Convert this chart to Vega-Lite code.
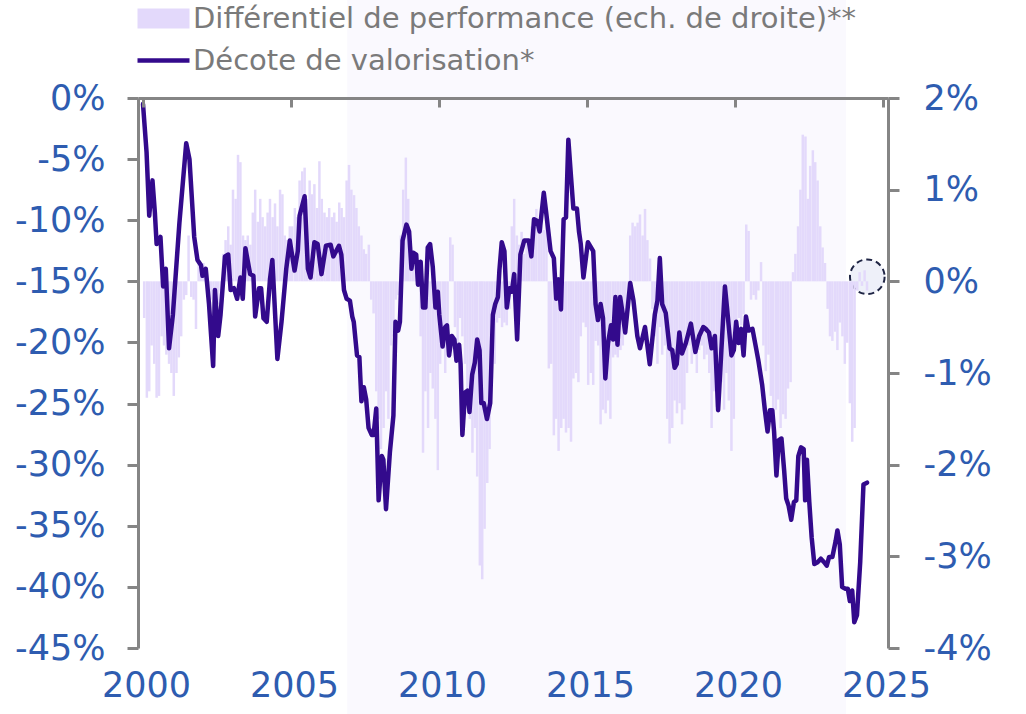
{
  "$schema": "https://vega.github.io/schema/vega-lite/v6.json",
  "width": 750,
  "height": 550,
  "autosize": {"type": "none"},
  "padding": {"left": 138, "top": 98, "right": 138, "bottom": 66},
  "background": "white",
  "config": {"view": {"stroke": null}, "font": "DejaVu Sans"},
  "datasets": {
    "zone": [{"debut": 2006.9, "fin": 2023.75, "haut": 8.1, "bas": -50.5}],
    "repere": [{"annee": 2024.47, "ecart": 0.05}],
    "perf": [
      {"annee": 2000.04, "ecart": -0.4}, {"annee": 2000.13, "ecart": -1.27}, {"annee": 2000.21, "ecart": -1.2}, {"annee": 2000.29, "ecart": -0.7}, {"annee": 2000.38, "ecart": -0.9}, {"annee": 2000.46, "ecart": -1.27}, {"annee": 2000.54, "ecart": -1.25}, {"annee": 2000.63, "ecart": -0.6}, {"annee": 2000.71, "ecart": -0.7}, {"annee": 2000.79, "ecart": -0.8}, {"annee": 2000.88, "ecart": -0.9}, {"annee": 2000.96, "ecart": -1.0},
      {"annee": 2001.04, "ecart": -1.25}, {"annee": 2001.13, "ecart": -1.0}, {"annee": 2001.21, "ecart": -0.83}, {"annee": 2001.29, "ecart": -0.6}, {"annee": 2001.38, "ecart": -0.2}, {"annee": 2001.46, "ecart": -0.15}, {"annee": 2001.54, "ecart": 0.5}, {"annee": 2001.63, "ecart": -0.17}, {"annee": 2001.71, "ecart": -0.2}, {"annee": 2001.79, "ecart": -0.52}, {"annee": 2001.88, "ecart": 0.2}, {"annee": 2001.96, "ecart": 0.15},
      {"annee": 2002.04, "ecart": 0.2}, {"annee": 2002.13, "ecart": 0.15}, {"annee": 2002.21, "ecart": -0.1}, {"annee": 2002.29, "ecart": -0.2}, {"annee": 2002.38, "ecart": -0.3}, {"annee": 2002.46, "ecart": -0.15}, {"annee": 2002.54, "ecart": -0.25}, {"annee": 2002.63, "ecart": -0.1}, {"annee": 2002.71, "ecart": 0.3}, {"annee": 2002.79, "ecart": 0.45}, {"annee": 2002.88, "ecart": 0.6}, {"annee": 2002.96, "ecart": 0.4},
      {"annee": 2003.04, "ecart": 1.0}, {"annee": 2003.13, "ecart": 0.9}, {"annee": 2003.21, "ecart": 1.38}, {"annee": 2003.29, "ecart": 1.3}, {"annee": 2003.38, "ecart": 0.5}, {"annee": 2003.46, "ecart": 0.45}, {"annee": 2003.54, "ecart": 0.5}, {"annee": 2003.63, "ecart": 0.4}, {"annee": 2003.71, "ecart": 0.75}, {"annee": 2003.79, "ecart": 1.0}, {"annee": 2003.88, "ecart": 0.65}, {"annee": 2003.96, "ecart": 0.9},
      {"annee": 2004.04, "ecart": 0.7}, {"annee": 2004.13, "ecart": 0.6}, {"annee": 2004.21, "ecart": 0.75}, {"annee": 2004.29, "ecart": 0.9}, {"annee": 2004.38, "ecart": 0.7}, {"annee": 2004.46, "ecart": 0.85}, {"annee": 2004.54, "ecart": 0.6}, {"annee": 2004.63, "ecart": 1.0}, {"annee": 2004.71, "ecart": 0.95}, {"annee": 2004.79, "ecart": 0.5}, {"annee": 2004.88, "ecart": 0.45}, {"annee": 2004.96, "ecart": 0.6},
      {"annee": 2005.04, "ecart": 0.6}, {"annee": 2005.13, "ecart": 0.8}, {"annee": 2005.21, "ecart": 0.7}, {"annee": 2005.29, "ecart": 1.1}, {"annee": 2005.38, "ecart": 1.2}, {"annee": 2005.46, "ecart": 1.24}, {"annee": 2005.54, "ecart": 0.9}, {"annee": 2005.63, "ecart": 1.1}, {"annee": 2005.71, "ecart": 0.95}, {"annee": 2005.79, "ecart": 1.06}, {"annee": 2005.88, "ecart": 0.8}, {"annee": 2005.96, "ecart": 1.31},
      {"annee": 2006.04, "ecart": 0.9}, {"annee": 2006.13, "ecart": 0.75}, {"annee": 2006.21, "ecart": 0.7}, {"annee": 2006.29, "ecart": 0.8}, {"annee": 2006.38, "ecart": 0.7}, {"annee": 2006.46, "ecart": 0.75}, {"annee": 2006.54, "ecart": 0.65}, {"annee": 2006.63, "ecart": 0.86}, {"annee": 2006.71, "ecart": 0.8}, {"annee": 2006.79, "ecart": 0.7}, {"annee": 2006.88, "ecart": 1.1}, {"annee": 2006.96, "ecart": 1.27},
      {"annee": 2007.04, "ecart": 1.0}, {"annee": 2007.13, "ecart": 0.94}, {"annee": 2007.21, "ecart": 0.8}, {"annee": 2007.29, "ecart": 0.6}, {"annee": 2007.38, "ecart": 0.5}, {"annee": 2007.46, "ecart": 0.35}, {"annee": 2007.54, "ecart": 0.3}, {"annee": 2007.63, "ecart": 0.4}, {"annee": 2007.71, "ecart": -0.2}, {"annee": 2007.79, "ecart": -0.35}, {"annee": 2007.88, "ecart": -1.2}, {"annee": 2007.96, "ecart": -1.5},
      {"annee": 2008.04, "ecart": -1.83}, {"annee": 2008.13, "ecart": -1.6}, {"annee": 2008.21, "ecart": -1.2}, {"annee": 2008.29, "ecart": -1.5}, {"annee": 2008.38, "ecart": -0.7}, {"annee": 2008.46, "ecart": -0.6}, {"annee": 2008.54, "ecart": -0.2}, {"annee": 2008.63, "ecart": -0.15}, {"annee": 2008.71, "ecart": 0.5}, {"annee": 2008.79, "ecart": 1.0}, {"annee": 2008.88, "ecart": 1.35}, {"annee": 2008.96, "ecart": 0.9},
      {"annee": 2009.04, "ecart": 0.35}, {"annee": 2009.13, "ecart": 0.2}, {"annee": 2009.21, "ecart": 0.1}, {"annee": 2009.29, "ecart": 0.15}, {"annee": 2009.38, "ecart": -0.6}, {"annee": 2009.46, "ecart": -1.87}, {"annee": 2009.54, "ecart": -1.2}, {"annee": 2009.63, "ecart": -1.6}, {"annee": 2009.71, "ecart": -1.0}, {"annee": 2009.79, "ecart": -1.17}, {"annee": 2009.88, "ecart": -1.5}, {"annee": 2009.96, "ecart": -2.06},
      {"annee": 2010.04, "ecart": -0.9}, {"annee": 2010.13, "ecart": -0.7}, {"annee": 2010.21, "ecart": -1.0}, {"annee": 2010.29, "ecart": -0.8}, {"annee": 2010.38, "ecart": 0.48}, {"annee": 2010.46, "ecart": 0.4}, {"annee": 2010.54, "ecart": -0.5}, {"annee": 2010.63, "ecart": -0.7}, {"annee": 2010.71, "ecart": -0.4}, {"annee": 2010.79, "ecart": -0.6}, {"annee": 2010.88, "ecart": -0.9}, {"annee": 2010.96, "ecart": -1.2},
      {"annee": 2011.04, "ecart": -1.5}, {"annee": 2011.13, "ecart": -1.87}, {"annee": 2011.21, "ecart": -1.6}, {"annee": 2011.29, "ecart": -2.13}, {"annee": 2011.38, "ecart": -3.1}, {"annee": 2011.46, "ecart": -3.25}, {"annee": 2011.54, "ecart": -2.7}, {"annee": 2011.63, "ecart": -2.2}, {"annee": 2011.71, "ecart": -1.83}, {"annee": 2011.79, "ecart": -1.06}, {"annee": 2011.88, "ecart": -0.9}, {"annee": 2011.96, "ecart": -0.45},
      {"annee": 2012.04, "ecart": -0.4}, {"annee": 2012.13, "ecart": -0.5}, {"annee": 2012.21, "ecart": -0.45}, {"annee": 2012.29, "ecart": -0.48}, {"annee": 2012.38, "ecart": -0.3}, {"annee": 2012.46, "ecart": 0.6}, {"annee": 2012.54, "ecart": 0.9}, {"annee": 2012.63, "ecart": 0.5}, {"annee": 2012.71, "ecart": 0.4}, {"annee": 2012.79, "ecart": 0.54}, {"annee": 2012.88, "ecart": 0.3}, {"annee": 2012.96, "ecart": 0.45},
      {"annee": 2013.04, "ecart": 0.4}, {"annee": 2013.13, "ecart": 0.6}, {"annee": 2013.21, "ecart": 0.7}, {"annee": 2013.29, "ecart": 0.79}, {"annee": 2013.38, "ecart": 0.65}, {"annee": 2013.46, "ecart": 0.6}, {"annee": 2013.54, "ecart": 0.56}, {"annee": 2013.63, "ecart": 0.7}, {"annee": 2013.71, "ecart": -0.95}, {"annee": 2013.79, "ecart": -0.9}, {"annee": 2013.88, "ecart": -1.68}, {"annee": 2013.96, "ecart": -1.5},
      {"annee": 2014.04, "ecart": -1.85}, {"annee": 2014.13, "ecart": -1.6}, {"annee": 2014.21, "ecart": -1.5}, {"annee": 2014.29, "ecart": -1.65}, {"annee": 2014.38, "ecart": -1.6}, {"annee": 2014.46, "ecart": -1.75}, {"annee": 2014.54, "ecart": -1.06}, {"annee": 2014.63, "ecart": -1.0}, {"annee": 2014.71, "ecart": -1.1}, {"annee": 2014.79, "ecart": -0.6}, {"annee": 2014.88, "ecart": -0.45}, {"annee": 2014.96, "ecart": -0.5},
      {"annee": 2015.04, "ecart": -1.13}, {"annee": 2015.13, "ecart": -1.0}, {"annee": 2015.21, "ecart": -1.13}, {"annee": 2015.29, "ecart": -0.65}, {"annee": 2015.38, "ecart": -0.7}, {"annee": 2015.46, "ecart": -1.56}, {"annee": 2015.54, "ecart": -1.4}, {"annee": 2015.63, "ecart": -1.44}, {"annee": 2015.71, "ecart": -1.3}, {"annee": 2015.79, "ecart": -1.5}, {"annee": 2015.88, "ecart": -0.83}, {"annee": 2015.96, "ecart": -0.8},
      {"annee": 2016.04, "ecart": -0.83}, {"annee": 2016.13, "ecart": -0.75}, {"annee": 2016.21, "ecart": -0.7}, {"annee": 2016.29, "ecart": -0.36}, {"annee": 2016.38, "ecart": -0.3}, {"annee": 2016.46, "ecart": 0.5}, {"annee": 2016.54, "ecart": 0.64}, {"annee": 2016.63, "ecart": 0.6}, {"annee": 2016.71, "ecart": 0.64}, {"annee": 2016.79, "ecart": 0.73}, {"annee": 2016.88, "ecart": 0.5}, {"annee": 2016.96, "ecart": 0.79},
      {"annee": 2017.04, "ecart": 0.45}, {"annee": 2017.13, "ecart": 0.25}, {"annee": 2017.21, "ecart": -0.3}, {"annee": 2017.29, "ecart": -0.6}, {"annee": 2017.38, "ecart": -0.9}, {"annee": 2017.46, "ecart": -0.5}, {"annee": 2017.54, "ecart": -0.8}, {"annee": 2017.63, "ecart": -0.7}, {"annee": 2017.71, "ecart": -1.5}, {"annee": 2017.79, "ecart": -1.77}, {"annee": 2017.88, "ecart": -1.6}, {"annee": 2017.96, "ecart": -1.3},
      {"annee": 2018.04, "ecart": -1.44}, {"annee": 2018.13, "ecart": -1.33}, {"annee": 2018.21, "ecart": -1.56}, {"annee": 2018.29, "ecart": -1.4}, {"annee": 2018.38, "ecart": -1.0}, {"annee": 2018.46, "ecart": -0.7}, {"annee": 2018.54, "ecart": -0.9}, {"annee": 2018.63, "ecart": -0.8}, {"annee": 2018.71, "ecart": -1.0}, {"annee": 2018.79, "ecart": -0.75}, {"annee": 2018.88, "ecart": -0.7}, {"annee": 2018.96, "ecart": -0.85},
      {"annee": 2019.04, "ecart": -0.8}, {"annee": 2019.13, "ecart": -1.0}, {"annee": 2019.21, "ecart": -1.6}, {"annee": 2019.29, "ecart": -1.2}, {"annee": 2019.38, "ecart": -1.37}, {"annee": 2019.46, "ecart": -1.3}, {"annee": 2019.54, "ecart": -1.1}, {"annee": 2019.63, "ecart": -1.4}, {"annee": 2019.71, "ecart": -1.0}, {"annee": 2019.79, "ecart": -1.3}, {"annee": 2019.88, "ecart": -1.85}, {"annee": 2019.96, "ecart": -1.5},
      {"annee": 2020.04, "ecart": -0.45}, {"annee": 2020.13, "ecart": -0.4}, {"annee": 2020.21, "ecart": -0.48}, {"annee": 2020.29, "ecart": -0.36}, {"annee": 2020.38, "ecart": 0.62}, {"annee": 2020.46, "ecart": 0.55}, {"annee": 2020.54, "ecart": -0.2}, {"annee": 2020.63, "ecart": -0.15}, {"annee": 2020.71, "ecart": -0.2}, {"annee": 2020.79, "ecart": -0.1}, {"annee": 2020.88, "ecart": 0.21}, {"annee": 2020.96, "ecart": -0.7},
      {"annee": 2021.04, "ecart": -0.98}, {"annee": 2021.13, "ecart": -0.8}, {"annee": 2021.21, "ecart": -1.25}, {"annee": 2021.29, "ecart": -1.56}, {"annee": 2021.38, "ecart": -1.4}, {"annee": 2021.46, "ecart": -1.29}, {"annee": 2021.54, "ecart": -1.6}, {"annee": 2021.63, "ecart": -1.45}, {"annee": 2021.71, "ecart": -1.5}, {"annee": 2021.79, "ecart": -1.17}, {"annee": 2021.88, "ecart": -1.1}, {"annee": 2021.96, "ecart": 0.1},
      {"annee": 2022.04, "ecart": 0.3}, {"annee": 2022.13, "ecart": 0.6}, {"annee": 2022.21, "ecart": 1.0}, {"annee": 2022.29, "ecart": 1.6}, {"annee": 2022.38, "ecart": 1.58}, {"annee": 2022.46, "ecart": 0.9}, {"annee": 2022.54, "ecart": 1.26}, {"annee": 2022.63, "ecart": 1.43}, {"annee": 2022.71, "ecart": 1.3}, {"annee": 2022.79, "ecart": 1.1}, {"annee": 2022.88, "ecart": 0.6}, {"annee": 2022.96, "ecart": 0.37},
      {"annee": 2023.04, "ecart": 0.2}, {"annee": 2023.13, "ecart": -0.3}, {"annee": 2023.21, "ecart": -0.6}, {"annee": 2023.29, "ecart": -0.65}, {"annee": 2023.38, "ecart": -0.55}, {"annee": 2023.46, "ecart": -0.75}, {"annee": 2023.54, "ecart": -0.45}, {"annee": 2023.63, "ecart": -0.6}, {"annee": 2023.71, "ecart": -0.9}, {"annee": 2023.79, "ecart": -0.67}, {"annee": 2023.88, "ecart": -1.33}, {"annee": 2023.96, "ecart": -1.75},
      {"annee": 2024.04, "ecart": -1.6}, {"annee": 2024.13, "ecart": -0.1}, {"annee": 2024.21, "ecart": 0.1}, {"annee": 2024.29, "ecart": -0.05}, {"annee": 2024.38, "ecart": 0.12}, {"annee": 2024.46, "ecart": -0.1}
    ],
    "decote": [
      {"annee": 2000.0, "decote": -0.5}, {"annee": 2000.12, "decote": -4.43}, {"annee": 2000.21, "decote": -9.63}, {"annee": 2000.32, "decote": -6.74}, {"annee": 2000.4, "decote": -9.34}, {"annee": 2000.46, "decote": -11.95}, {"annee": 2000.59, "decote": -11.37}, {"annee": 2000.68, "decote": -15.42}, {"annee": 2000.77, "decote": -13.97}, {"annee": 2000.88, "decote": -20.48},
      {"annee": 2001.01, "decote": -17.73}, {"annee": 2001.23, "decote": -10.21}, {"annee": 2001.46, "decote": -3.7}, {"annee": 2001.57, "decote": -5.0}, {"annee": 2001.73, "decote": -11.37}, {"annee": 2001.84, "decote": -13.25}, {"annee": 2001.96, "decote": -13.68},
      {"annee": 2002.01, "decote": -14.55}, {"annee": 2002.12, "decote": -13.97}, {"annee": 2002.23, "decote": -16.86}, {"annee": 2002.37, "decote": -21.93}, {"annee": 2002.43, "decote": -15.71}, {"annee": 2002.54, "decote": -19.47}, {"annee": 2002.62, "decote": -17.73}, {"annee": 2002.77, "decote": -12.96}, {"annee": 2002.88, "decote": -12.81}, {"annee": 2002.96, "decote": -15.71},
      {"annee": 2003.07, "decote": -15.56}, {"annee": 2003.18, "decote": -16.43}, {"annee": 2003.29, "decote": -14.69}, {"annee": 2003.37, "decote": -16.43}, {"annee": 2003.46, "decote": -12.29}, {"annee": 2003.62, "decote": -14.41}, {"annee": 2003.73, "decote": -14.55}, {"annee": 2003.79, "decote": -17.88}, {"annee": 2003.92, "decote": -15.56}, {"annee": 2003.99, "decote": -15.56},
      {"annee": 2004.07, "decote": -18.02}, {"annee": 2004.18, "decote": -18.31}, {"annee": 2004.29, "decote": -14.84}, {"annee": 2004.37, "decote": -13.25}, {"annee": 2004.54, "decote": -21.35}, {"annee": 2004.68, "decote": -18.31}, {"annee": 2004.84, "decote": -13.97}, {"annee": 2004.96, "decote": -11.66},
      {"annee": 2005.12, "decote": -14.12}, {"annee": 2005.23, "decote": -12.53}, {"annee": 2005.29, "decote": -9.63}, {"annee": 2005.46, "decote": -8.04}, {"annee": 2005.57, "decote": -13.97}, {"annee": 2005.66, "decote": -14.69}, {"annee": 2005.79, "decote": -11.8}, {"annee": 2005.9, "decote": -11.95},
      {"annee": 2006.03, "decote": -14.41}, {"annee": 2006.18, "decote": -12.09}, {"annee": 2006.34, "decote": -12.0}, {"annee": 2006.43, "decote": -12.96}, {"annee": 2006.62, "decote": -12.09}, {"annee": 2006.7, "decote": -12.81}, {"annee": 2006.79, "decote": -15.71}, {"annee": 2006.88, "decote": -16.43}, {"annee": 2006.99, "decote": -16.58},
      {"annee": 2007.07, "decote": -17.88}, {"annee": 2007.12, "decote": -18.31}, {"annee": 2007.23, "decote": -21.06}, {"annee": 2007.31, "decote": -21.2}, {"annee": 2007.38, "decote": -24.82}, {"annee": 2007.46, "decote": -23.66}, {"annee": 2007.54, "decote": -24.67}, {"annee": 2007.62, "decote": -26.99}, {"annee": 2007.73, "decote": -27.57}, {"annee": 2007.79, "decote": -27.57}, {"annee": 2007.88, "decote": -25.4}, {"annee": 2007.96, "decote": -32.92},
      {"annee": 2008.07, "decote": -29.3}, {"annee": 2008.12, "decote": -29.59}, {"annee": 2008.21, "decote": -33.64}, {"annee": 2008.34, "decote": -29.01}, {"annee": 2008.46, "decote": -25.98}, {"annee": 2008.53, "decote": -18.31}, {"annee": 2008.62, "decote": -19.03}, {"annee": 2008.68, "decote": -18.31}, {"annee": 2008.77, "decote": -11.66}, {"annee": 2008.9, "decote": -10.36}, {"annee": 2008.99, "decote": -10.93},
      {"annee": 2009.07, "decote": -13.97}, {"annee": 2009.14, "decote": -12.67}, {"annee": 2009.23, "decote": -12.81}, {"annee": 2009.29, "decote": -15.27}, {"annee": 2009.38, "decote": -13.39}, {"annee": 2009.46, "decote": -17.15}, {"annee": 2009.54, "decote": -17.15}, {"annee": 2009.62, "decote": -12.24}, {"annee": 2009.7, "decote": -11.95}, {"annee": 2009.79, "decote": -13.83}, {"annee": 2009.88, "decote": -17.15}, {"annee": 2009.96, "decote": -15.85},
      {"annee": 2010.01, "decote": -17.73}, {"annee": 2010.12, "decote": -20.34}, {"annee": 2010.21, "decote": -18.74}, {"annee": 2010.27, "decote": -18.6}, {"annee": 2010.34, "decote": -21.06}, {"annee": 2010.43, "decote": -19.47}, {"annee": 2010.52, "decote": -19.76}, {"annee": 2010.59, "decote": -21.49}, {"annee": 2010.68, "decote": -20.19}, {"annee": 2010.73, "decote": -21.78}, {"annee": 2010.79, "decote": -27.57}, {"annee": 2010.88, "decote": -24.1}, {"annee": 2010.96, "decote": -23.95},
      {"annee": 2011.03, "decote": -25.69}, {"annee": 2011.12, "decote": -22.65}, {"annee": 2011.21, "decote": -21.64}, {"annee": 2011.29, "decote": -19.76}, {"annee": 2011.37, "decote": -20.63}, {"annee": 2011.43, "decote": -24.96}, {"annee": 2011.51, "decote": -24.96}, {"annee": 2011.62, "decote": -26.27}, {"annee": 2011.73, "decote": -24.96}, {"annee": 2011.82, "decote": -17.73}, {"annee": 2011.9, "decote": -16.86}, {"annee": 2011.99, "decote": -16.29},
      {"annee": 2012.04, "decote": -14.12}, {"annee": 2012.12, "decote": -11.8}, {"annee": 2012.21, "decote": -12.53}, {"annee": 2012.29, "decote": -17.15}, {"annee": 2012.38, "decote": -15.56}, {"annee": 2012.46, "decote": -15.85}, {"annee": 2012.54, "decote": -14.41}, {"annee": 2012.64, "decote": -19.76}, {"annee": 2012.75, "decote": -12.81}, {"annee": 2012.88, "decote": -11.66},
      {"annee": 2013.03, "decote": -11.66}, {"annee": 2013.12, "decote": -12.96}, {"annee": 2013.21, "decote": -9.92}, {"annee": 2013.32, "decote": -10.07}, {"annee": 2013.4, "decote": -10.93}, {"annee": 2013.54, "decote": -7.75}, {"annee": 2013.62, "decote": -9.34}, {"annee": 2013.77, "decote": -12.53}, {"annee": 2013.88, "decote": -13.1}, {"annee": 2013.96, "decote": -16.43},
      {"annee": 2014.04, "decote": -14.84}, {"annee": 2014.12, "decote": -17.3}, {"annee": 2014.21, "decote": -9.92}, {"annee": 2014.29, "decote": -9.78}, {"annee": 2014.37, "decote": -3.41}, {"annee": 2014.46, "decote": -6.45}, {"annee": 2014.54, "decote": -9.05}, {"annee": 2014.66, "decote": -9.05}, {"annee": 2014.73, "decote": -10.93}, {"annee": 2014.79, "decote": -11.95}, {"annee": 2014.88, "decote": -14.69},
      {"annee": 2015.03, "decote": -11.8}, {"annee": 2015.21, "decote": -12.53}, {"annee": 2015.29, "decote": -16.86}, {"annee": 2015.37, "decote": -18.17}, {"annee": 2015.46, "decote": -16.86}, {"annee": 2015.54, "decote": -18.02}, {"annee": 2015.62, "decote": -22.94}, {"annee": 2015.71, "decote": -20.05}, {"annee": 2015.81, "decote": -18.6}, {"annee": 2015.88, "decote": -19.76}, {"annee": 2015.96, "decote": -16.29},
      {"annee": 2016.03, "decote": -20.19}, {"annee": 2016.12, "decote": -16.29}, {"annee": 2016.21, "decote": -17.73}, {"annee": 2016.29, "decote": -19.18}, {"annee": 2016.46, "decote": -15.13}, {"annee": 2016.57, "decote": -16.58}, {"annee": 2016.7, "decote": -19.47}, {"annee": 2016.79, "decote": -20.48}, {"annee": 2016.96, "decote": -18.74},
      {"annee": 2017.12, "decote": -21.78}, {"annee": 2017.29, "decote": -17.73}, {"annee": 2017.38, "decote": -16.58}, {"annee": 2017.46, "decote": -13.1}, {"annee": 2017.54, "decote": -16.86}, {"annee": 2017.66, "decote": -17.59}, {"annee": 2017.79, "decote": -20.48}, {"annee": 2017.88, "decote": -20.63}, {"annee": 2017.96, "decote": -22.07},
      {"annee": 2018.03, "decote": -21.78}, {"annee": 2018.12, "decote": -19.18}, {"annee": 2018.21, "decote": -20.91}, {"annee": 2018.34, "decote": -20.05}, {"annee": 2018.51, "decote": -18.46}, {"annee": 2018.66, "decote": -20.77}, {"annee": 2018.79, "decote": -19.47}, {"annee": 2018.93, "decote": -18.74},
      {"annee": 2019.01, "decote": -18.89}, {"annee": 2019.12, "decote": -19.18}, {"annee": 2019.21, "decote": -20.48}, {"annee": 2019.32, "decote": -19.47}, {"annee": 2019.43, "decote": -25.54}, {"annee": 2019.54, "decote": -20.63}, {"annee": 2019.66, "decote": -15.42}, {"annee": 2019.73, "decote": -17.15}, {"annee": 2019.88, "decote": -21.06}, {"annee": 2019.96, "decote": -20.63},
      {"annee": 2020.04, "decote": -18.31}, {"annee": 2020.12, "decote": -20.05}, {"annee": 2020.21, "decote": -18.89}, {"annee": 2020.29, "decote": -21.06}, {"annee": 2020.37, "decote": -17.88}, {"annee": 2020.46, "decote": -19.03}, {"annee": 2020.59, "decote": -18.89}, {"annee": 2020.68, "decote": -20.05}, {"annee": 2020.79, "decote": -21.49}, {"annee": 2020.92, "decote": -23.52},
      {"annee": 2021.01, "decote": -25.54}, {"annee": 2021.1, "decote": -27.28}, {"annee": 2021.18, "decote": -25.54}, {"annee": 2021.26, "decote": -25.54}, {"annee": 2021.32, "decote": -27.28}, {"annee": 2021.4, "decote": -30.89}, {"annee": 2021.48, "decote": -28.0}, {"annee": 2021.57, "decote": -27.86}, {"annee": 2021.66, "decote": -30.46}, {"annee": 2021.73, "decote": -32.77}, {"annee": 2021.81, "decote": -33.35}, {"annee": 2021.9, "decote": -34.51}, {"annee": 2021.99, "decote": -33.06},
      {"annee": 2022.07, "decote": -32.92}, {"annee": 2022.14, "decote": -29.3}, {"annee": 2022.23, "decote": -28.58}, {"annee": 2022.32, "decote": -28.72}, {"annee": 2022.37, "decote": -32.92}, {"annee": 2022.43, "decote": -29.59}, {"annee": 2022.51, "decote": -33.06}, {"annee": 2022.59, "decote": -35.96}, {"annee": 2022.68, "decote": -38.13}, {"annee": 2022.79, "decote": -37.98}, {"annee": 2022.9, "decote": -37.69},
      {"annee": 2023.01, "decote": -37.98}, {"annee": 2023.1, "decote": -38.27}, {"annee": 2023.18, "decote": -37.55}, {"annee": 2023.29, "decote": -37.55}, {"annee": 2023.4, "decote": -36.25}, {"annee": 2023.46, "decote": -35.38}, {"annee": 2023.54, "decote": -36.53}, {"annee": 2023.62, "decote": -40.01}, {"annee": 2023.73, "decote": -40.15}, {"annee": 2023.81, "decote": -40.15}, {"annee": 2023.88, "decote": -41.16}, {"annee": 2023.96, "decote": -40.3},
      {"annee": 2024.03, "decote": -42.9}, {"annee": 2024.12, "decote": -42.32}, {"annee": 2024.23, "decote": -37.98}, {"annee": 2024.34, "decote": -31.62}, {"annee": 2024.46, "decote": -31.47}
    ]
  },
  "layer": [
    {
      "data": {"name": "zone"},
      "mark": {"type": "rect", "fill": "#faf9fe"},
      "encoding": {
        "x": {"field": "debut", "type": "quantitative", "scale": {"domain": [2000, 2025], "nice": false, "zero": false}, "axis": null},
        "x2": {"field": "fin"},
        "y": {"field": "haut", "type": "quantitative", "scale": {"domain": [-45, 0], "nice": false, "zero": false}, "axis": null},
        "y2": {"field": "bas"}
      }
    },
    {
      "data": {"name": "repere"},
      "mark": {"type": "point", "shape": "circle", "filled": true, "fill": "#eef0f9", "stroke": "#1e2444", "strokeWidth": 2, "strokeDash": [6, 4], "size": 1200, "opacity": 1},
      "encoding": {
        "x": {"field": "annee", "type": "quantitative", "axis": null},
        "y": {"field": "ecart", "type": "quantitative", "scale": {"domain": [-4, 2], "nice": false, "zero": false}, "axis": null}
      }
    },
    {
      "data": {"name": "perf"},
      "mark": {"type": "bar", "orient": "vertical", "width": 2.5},
      "encoding": {
        "x": {
          "field": "annee", "type": "quantitative",
          "axis": {"orient": "top", "zindex": 1, "values": [2000, 2005, 2010, 2015, 2020, 2025], "labels": false, "tickSize": -9, "tickWidth": 3, "tickColor": "#858585", "domainColor": "#858585", "domainWidth": 3, "grid": false, "title": null}
        },
        "y": {
          "field": "ecart", "type": "quantitative",
          "scale": {"domain": [-4, 2], "nice": false},
          "axis": {"orient": "right", "zindex": 1, "values": [2, 1, 0, -1, -2, -3, -4], "labelExpr": "datum.value + '%'", "domainColor": "#858585", "domainWidth": 3, "tickColor": "#858585", "tickWidth": 3, "tickSize": 11, "labelFont": "DejaVu Sans", "labelFontSize": 35, "labelColor": "#2e5cb0", "labelPadding": 24, "labelFlush": false, "labelOverlap": false, "grid": false, "title": null}
        },
        "color": {
          "datum": "Différentiel de performance (ech. de droite)**",
          "scale": {"domain": ["Différentiel de performance (ech. de droite)**", "Décote de valorisation*"], "range": ["#e3d9fb", "#330a8c"]},
          "legend": {
            "orient": "top", "direction": "vertical", "title": null, "padding": 0, "offset": 20,
            "labelFont": "DejaVu Sans", "labelFontSize": 29, "labelColor": "#7a7a7a", "labelOffset": 15, "labelLimit": 0,
            "symbolSize": 2704, "symbolOffset": 11, "rowPadding": 12,
            "encode": {
              "symbols": {
                "update": {
                  "shape": {"signal": "datum.index === 1 ? 'stroke' : 'M-1,-0.38H1V0.38H-1Z'"},
                  "fill": {"signal": "datum.index === 1 ? 'transparent' : '#e3d9fb'"},
                  "stroke": {"signal": "datum.index === 1 ? '#330a8c' : 'transparent'"},
                  "strokeWidth": {"signal": "datum.index === 1 ? 4.5 : 0"},
                  "opacity": {"value": 1}
                }
              }
            }
          }
        }
      }
    },
    {
      "data": {"name": "decote"},
      "mark": {"type": "line", "strokeWidth": 4.5, "strokeJoin": "round", "strokeCap": "round"},
      "encoding": {
        "x": {
          "field": "annee", "type": "quantitative",
          "axis": {"orient": "bottom", "zindex": 1, "values": [2000, 2005, 2010, 2015, 2020, 2025], "format": "d", "domain": false, "ticks": false, "labelFont": "DejaVu Sans", "labelFontSize": 35, "labelColor": "#2e5cb0", "labelPadding": 20, "labelOffset": 3, "labelFlush": false, "labelOverlap": false, "grid": false, "title": null}
        },
        "y": {
          "field": "decote", "type": "quantitative",
          "scale": {"domain": [-45, 0], "nice": false, "zero": false},
          "axis": {"orient": "left", "zindex": 1, "values": [0, -5, -10, -15, -20, -25, -30, -35, -40, -45], "labelExpr": "datum.value + '%'", "domainColor": "#858585", "domainWidth": 3, "tickColor": "#858585", "tickWidth": 3, "tickSize": 11, "labelFont": "DejaVu Sans", "labelFontSize": 35, "labelColor": "#2e5cb0", "labelPadding": 22, "labelFlush": false, "labelOverlap": false, "grid": false, "title": null}
        },
        "color": {"datum": "Décote de valorisation*"}
      }
    }
  ],
  "resolve": {"scale": {"y": "independent"}, "axis": {"x": "independent", "y": "independent"}}
}
